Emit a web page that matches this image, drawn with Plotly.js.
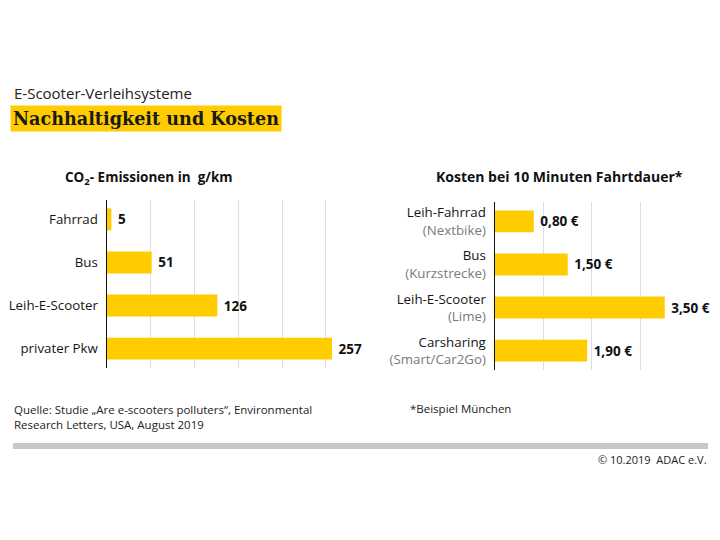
<!DOCTYPE html>
<html>
<head>
<meta charset="utf-8">
<script src="https://cdn.plot.ly/plotly-3.0.1.min.js"></script>
<style>html,body{margin:0;padding:0;background:#fff;}#chart{width:720px;height:540px;}</style>
</head>
<body>
<div id="chart"></div>
<script>
// ---- data ----
const co2Categories = ["Fahrrad", "Bus", "Leih-E-Scooter", "privater Pkw"];
const co2Values = [5, 51, 126, 257];

const costCategories = ["Leih-Fahrrad", "Bus", "Leih-E-Scooter", "Carsharing"];
const costSubLabels = ["(Nextbike)", "(Kurzstrecke)", "(Lime)", "(Smart/Car2Go)"];
const costValues = [0.80, 1.50, 3.50, 1.90];

const headerText = "E-Scooter-Verleihsysteme";
const titleText = "Nachhaltigkeit und Kosten";
const leftTitle = "CO<sub>2</sub>- Emissionen in \u00a0g/km";
const rightTitle = "Kosten bei 10 Minuten Fahrtdauer*";
const sourceText = "Quelle: Studie \u201eAre e-scooters polluters\u201c, Environmental<br>Research Letters, USA, August 2019";
const noteText = "*Beispiel M\u00fcnchen";
const copyrightText = "\u00a9 10.2019\u00a0 ADAC e.V.";

// ---- styling ----
const W = 720, H = 540;
const yellow = "#FFCC00";
const font = "Open Sans, sans-serif";
const px = v => v / W;
const py = v => (H - v) / H;

const costLabels = costCategories.map((c, i) =>
  c + "<br><span style='color:#7a7a7a'>" + costSubLabels[i] + "</span>");

const traces = [
  {
    type: "bar", orientation: "h",
    x: co2Values, y: co2Categories,
    xaxis: "x", yaxis: "y",
    marker: {color: yellow},
    width: 0.51,
    text: co2Values.map(v => "\u00a0" + v),
    textposition: "outside",
    textfont: {family: font, size: 13.5, color: "#111", weight: "bold"},
    cliponaxis: false,
    hoverinfo: "skip"
  },
  {
    type: "bar", orientation: "h",
    x: costValues, y: costLabels,
    xaxis: "x2", yaxis: "y2",
    marker: {color: yellow},
    width: 0.51,
    text: costValues.map(v => "\u00a0" + v.toFixed(2).replace(".", ",") + " \u20ac"),
    textposition: "outside",
    textfont: {family: font, size: 13.5, color: "#111", weight: "bold"},
    cliponaxis: false,
    hoverinfo: "skip"
  }
];

const xCommon = {
  showgrid: true, gridcolor: "#dedede", gridwidth: 1,
  zeroline: false, showticklabels: false, ticks: "", showline: false
};
const yCommon = {
  type: "category", range: [3.45, -0.45],
  showgrid: false, zeroline: false,
  showline: true, linecolor: "#111", linewidth: 1.5,
  ticks: "", ticklabelstandoff: 5,
  tickfont: {family: font, size: 13.3, color: "#161616"}
};

const layout = {
  width: W, height: H,
  margin: {l: 0, r: 0, t: 0, b: 0},
  paper_bgcolor: "#fff", plot_bgcolor: "rgba(0,0,0,0)",
  showlegend: false,
  bargap: 0.49,
  xaxis: Object.assign({}, xCommon, {domain: [px(107), px(345)], range: [0, 271.8], dtick: 50, anchor: "y"}),
  yaxis: Object.assign({}, yCommon, {domain: [py(368), py(200)], anchor: "x"}),
  xaxis2: Object.assign({}, xCommon, {domain: [px(495), px(685)], range: [0, 3.918], dtick: 1, anchor: "y2"}),
  yaxis2: Object.assign({}, yCommon, {domain: [py(370), py(202)], anchor: "x2"}),
  shapes: [
    {type: "rect", xref: "paper", yref: "paper",
     x0: px(13), x1: px(708), y0: py(449), y1: py(443),
     fillcolor: "#c8c8c8", line: {width: 0}, layer: "below"}
  ],
  annotations: [
    {text: headerText, xref: "paper", yref: "paper", x: px(12), y: py(93),
     xanchor: "left", yanchor: "middle", showarrow: false,
     font: {family: font, size: 15, color: "#222"}},
    {text: "<b>" + titleText + "</b>", xref: "paper", yref: "paper", x: px(10), y: py(118),
     xanchor: "left", yanchor: "middle", showarrow: false,
     bgcolor: yellow, borderpad: 2,
     font: {family: "DejaVu Serif, serif", size: 17.6, color: "#1a1a1a"}},
    {text: "<b>" + leftTitle + "</b>", xref: "paper", yref: "paper", x: px(149), y: py(178),
     xanchor: "center", yanchor: "middle", showarrow: false,
     font: {family: font, size: 13.5, color: "#111"}},
    {text: "<b>" + rightTitle + "</b>", xref: "paper", yref: "paper", x: px(559), y: py(177),
     xanchor: "center", yanchor: "middle", showarrow: false,
     font: {family: font, size: 14, color: "#111"}},
    {text: sourceText, xref: "paper", yref: "paper", x: px(12), y: py(417),
     xanchor: "left", yanchor: "middle", align: "left", showarrow: false,
     font: {family: font, size: 11.5, color: "#222"}},
    {text: noteText, xref: "paper", yref: "paper", x: px(408), y: py(408),
     xanchor: "left", yanchor: "middle", showarrow: false,
     font: {family: font, size: 11.5, color: "#222"}},
    {text: copyrightText, xref: "paper", yref: "paper", x: px(709), y: py(459),
     xanchor: "right", yanchor: "middle", showarrow: false,
     font: {family: font, size: 11, color: "#222"}}
  ]
};

Plotly.newPlot("chart", traces, layout, {staticPlot: true, displayModeBar: false});
</script>
</body>
</html>
